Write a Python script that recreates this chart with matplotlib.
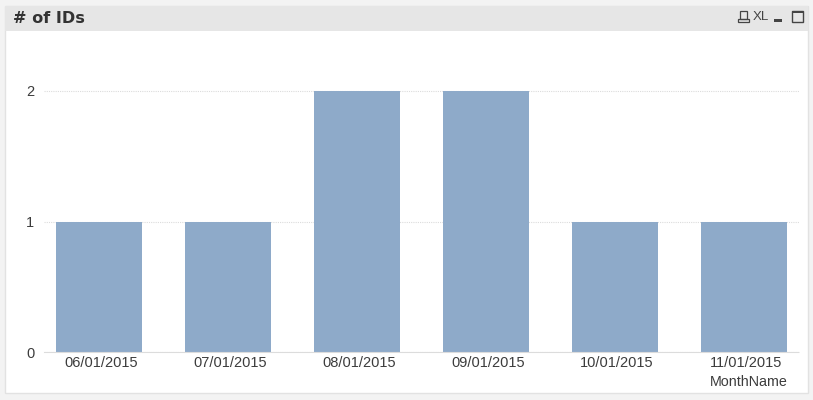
import matplotlib
matplotlib.use('Agg')
import matplotlib.pyplot as plt
from matplotlib.patches import Rectangle
from matplotlib.transforms import ScaledTranslation

# Data
months = ['06/01/2015', '07/01/2015', '08/01/2015', '09/01/2015', '10/01/2015', '11/01/2015']
id_counts = [1, 1, 2, 2, 1, 1]
y_ticks = [0, 1, 2]

W, H = 813, 400
text_col = '#3c3c3c'
grid_col = '#dcdcdc'
plt.rcParams['font.family'] = ['Liberation Sans', 'DejaVu Sans']

fig = plt.figure(figsize=(W / 100, H / 100), dpi=100, facecolor='#f3f3f3')

# Window frame drawn in pixel coordinates
bg = fig.add_axes([0, 0, 1, 1], zorder=0)
bg.set_xlim(0, W)
bg.set_ylim(H, 0)
bg.axis('off')
bg.add_patch(Rectangle((5, 6), 803, 387, fc='white', ec='#e2e2e2', lw=1))
bg.add_patch(Rectangle((5, 6), 803, 25, fc='#e6e6e6', ec='none'))
bg.text(12.5, 18.5, '# of IDs', family='DejaVu Sans', fontweight='bold', fontsize=11.6,
        color='#333333', va='center', ha='left')

# Caption icons
icon = '#444444'
bg.add_patch(Rectangle((740, 11), 7, 8, fc='none', ec=icon, lw=0.9))
bg.add_patch(Rectangle((738, 19), 11, 2.5, fc='none', ec=icon, lw=0.9))
bg.text(761, 16.5, 'XL', fontsize=9.5, color=icon, va='center', ha='center')
bg.add_patch(Rectangle((774, 19), 8, 3, fc=icon, ec='none'))
bg.add_patch(Rectangle((792, 11), 11, 11, fc='none', ec=icon, lw=1))
bg.add_patch(Rectangle((792, 11), 11, 2, fc=icon, ec='none'))

# Chart
ax = fig.add_axes([44 / W, 1 - 352 / H, (799 - 44) / W, (352 - 32) / H], zorder=1)
ax.patch.set_alpha(0)
x = range(len(months))
ax.bar(x, id_counts, width=0.667, color='#8eaac9', zorder=2)

ax.set_xlim(-0.426, 5.426)
ax.set_ylim(0, 320 / 130.5)
ax.set_yticks(y_ticks)
ax.set_xticks(list(x))
ax.set_xticklabels(months)
ax.grid(axis='y', color=grid_col, linestyle=(0, (1, 1)), linewidth=0.8, zorder=1)
ax.tick_params(length=0, labelsize=10.5, labelcolor=text_col)
ax.tick_params(axis='x', pad=3)
ax.tick_params(axis='y', pad=7)
for s in ['top', 'right', 'left']:
    ax.spines[s].set_visible(False)
ax.spines['bottom'].set_color(grid_col)
ax.spines['bottom'].set_linestyle((0, (1, 1)))
ax.spines['bottom'].set_linewidth(0.8)

# labels sit a little right of the bar centres
shift = ScaledTranslation(2 / 100, 0, fig.dpi_scale_trans)
for lab in ax.get_xticklabels():
    lab.set_transform(lab.get_transform() + shift)

bg.text(788, 382, 'MonthName', fontsize=10.3, color=text_col, va='center', ha='right')

fig.savefig('out.png', dpi=100, facecolor=fig.get_facecolor())
